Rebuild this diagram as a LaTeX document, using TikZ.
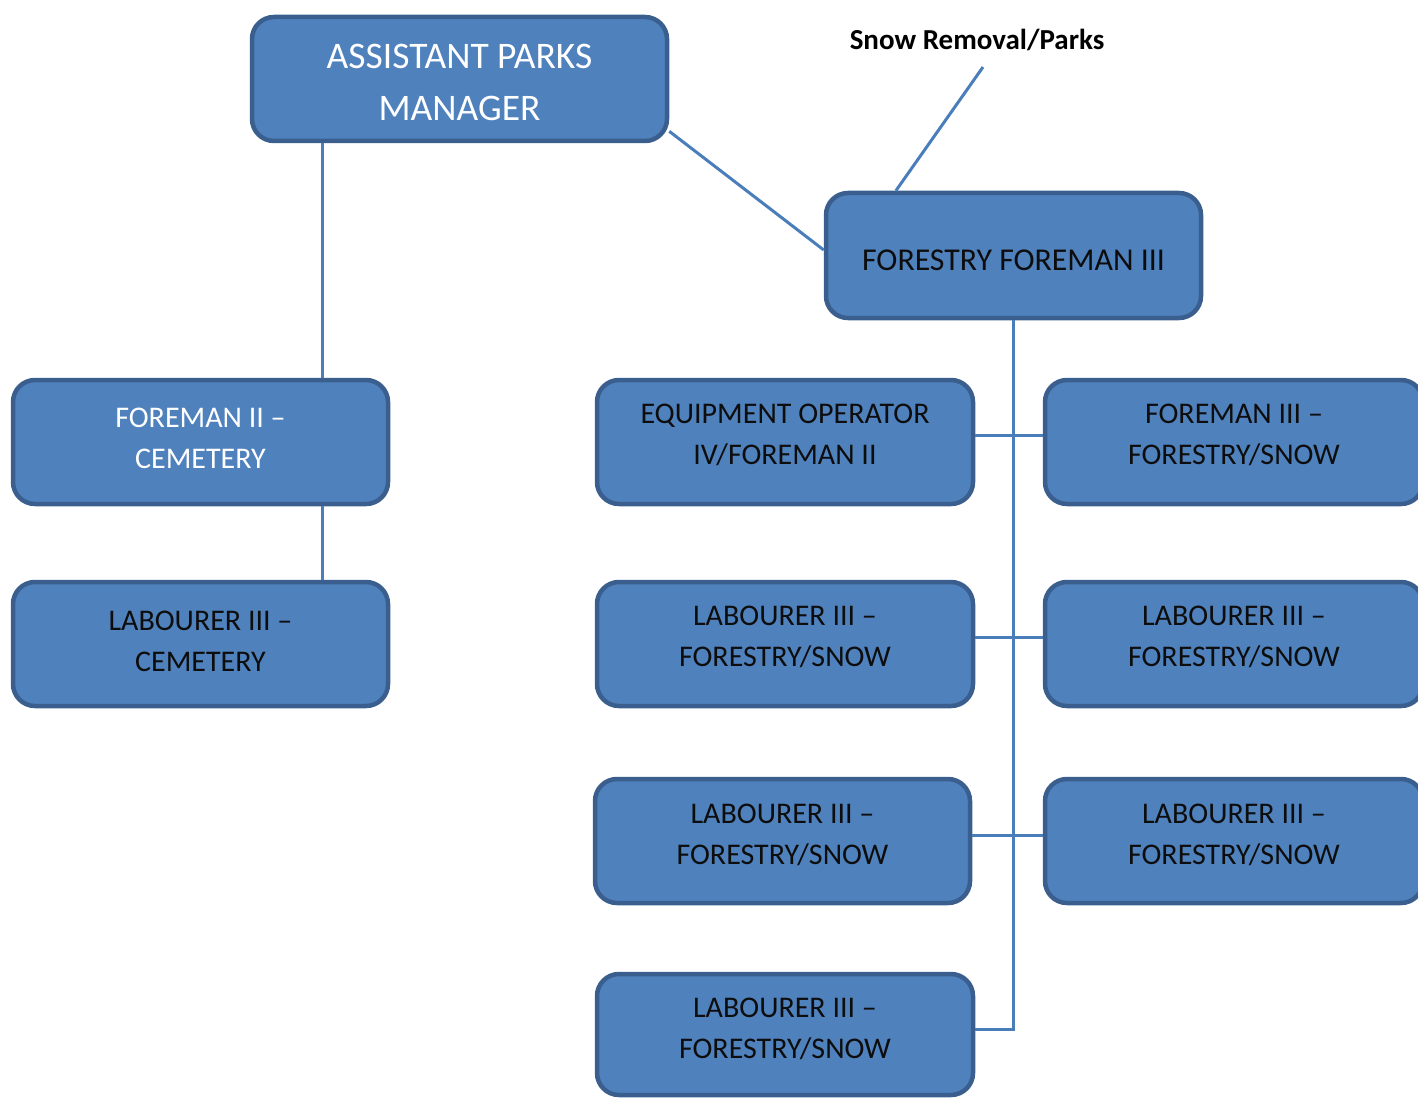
\documentclass[tikz,border=0pt]{standalone}
\usepackage{fontspec}
\setmainfont{Carlito}
\usetikzlibrary{calc}
\definecolor{boxfill}{HTML}{4F81BD}
\definecolor{boxline}{HTML}{3A5F8E}
\definecolor{connc}{HTML}{4A7EBB}
\definecolor{ink}{HTML}{0D0D0D}
\begin{document}
\begin{tikzpicture}[x=1pt,y=-1pt,
  orgbox/.style={draw=boxline, fill=boxfill, line width=4.5pt, rounded corners=22pt, inner sep=0pt, minimum height=124pt},
  lbl/.style={font=\fontsize{30}{41}\selectfont, align=center, text=ink, inner sep=0pt},
  wlbl/.style={lbl, text=white},
  conn/.style={draw=connc, line width=3pt}]
\useasboundingbox (0,0) rectangle (1418,1099);
% boxes
\node[orgbox, minimum width=415pt] (apm) at (459.5,79) {};
\node[orgbox, minimum width=375pt, minimum height=125pt] (ff3) at (1013.5,255.5) {};
\node[orgbox, minimum width=375pt] (fc) at (200.5,442) {};
\node[orgbox, minimum width=375pt] (lc) at (200.5,644) {};
\node[orgbox, minimum width=376pt] (eq) at (785,442) {};
\node[orgbox, minimum width=378pt] (fr3) at (1234,442) {};
\node[orgbox, minimum width=376pt] (la) at (785,644) {};
\node[orgbox, minimum width=378pt] (lb) at (1234,644) {};
\node[orgbox, minimum width=375pt] (lcc) at (782.5,841) {};
\node[orgbox, minimum width=378pt] (ld) at (1234,841) {};
\node[orgbox, minimum width=376pt, minimum height=121pt] (le) at (785,1034.5) {};
% labels
\node[wlbl, font=\fontsize{37.5}{52}\selectfont] (apmt) at (459.5,82) {ASSISTANT PARKS\\MANAGER};
\node[lbl, font=\fontsize{31.8}{41}\selectfont] (ff3t) at (1013.5,260) {FORESTRY FOREMAN III};
\node[wlbl] (fct) at (200.5,438.5) {FOREMAN II –\\CEMETERY};
\node[lbl] (lct) at (200.5,641) {LABOURER III –\\CEMETERY};
\node[lbl] (eqt) at (785,435) {EQUIPMENT OPERATOR\\IV/FOREMAN II};
\node[lbl] (fr3t) at (1234,435) {FOREMAN III –\\FORESTRY/SNOW};
\node[lbl] (lat) at (785,637) {LABOURER III –\\FORESTRY/SNOW};
\node[lbl] (lbt) at (1234,637) {LABOURER III –\\FORESTRY/SNOW};
\node[lbl] (lcct) at (782.5,835) {LABOURER III –\\FORESTRY/SNOW};
\node[lbl] (ldt) at (1234,835) {LABOURER III –\\FORESTRY/SNOW};
\node[lbl] (let) at (785,1029) {LABOURER III –\\FORESTRY/SNOW};
\node[lbl, text=black, font=\bfseries\fontsize{29}{34}\selectfont] (snow) at (977,40) {Snow Removal/Parks};
% connectors
\coordinate (jx) at (322,0);
\coordinate (snowend) at (983,67);
\draw[conn] (apm.south -| jx) -- (fc.north -| jx);
\draw[conn] (fc.south -| jx) -- (lc.north -| jx);
\draw[conn] (apm.-14.6) -- (ff3.west |- 0,250);
\draw[conn] (snowend) -- ($(ff3.north west)!0.19!(ff3.north east)$);
\draw[conn] (ff3.south) -- (ff3.south |- let) -- (let -| le.east);
\draw[conn] (eqt -| eq.east) -- (eqt -| fr3.west);
\draw[conn] (lat -| la.east) -- (lat -| lb.west);
\draw[conn] (lcct -| lcc.east) -- (lcct -| ld.west);
\end{tikzpicture}
\end{document}
